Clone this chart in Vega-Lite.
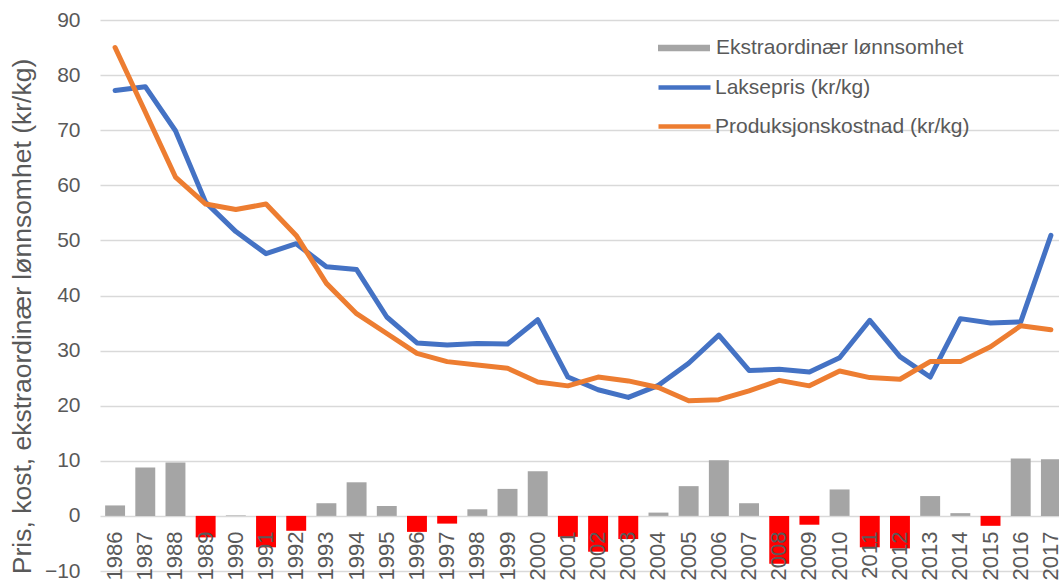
{
  "$schema": "https://vega.github.io/schema/vega-lite/v6.json",
  "width": 966,
  "height": 551,
  "autosize": {"type": "none"},
  "padding": {"left": 100, "top": 20, "right": 0, "bottom": 10},
  "background": "white",
  "config": {"view": {"stroke": null}, "font": "Liberation Sans"},
  "data": {
    "values": [
      {"year": "1986", "laks": 77.2, "kost": 85.0, "ekstra": 1.9},
      {"year": "1987", "laks": 77.9, "kost": 73.3, "ekstra": 8.8},
      {"year": "1988", "laks": 69.9, "kost": 61.5, "ekstra": 9.7},
      {"year": "1989", "laks": 56.9, "kost": 56.6, "ekstra": -3.9},
      {"year": "1990", "laks": 51.6, "kost": 55.6, "ekstra": 0.1},
      {"year": "1991", "laks": 47.6, "kost": 56.6, "ekstra": -5.7},
      {"year": "1992", "laks": 49.4, "kost": 50.9, "ekstra": -2.7},
      {"year": "1993", "laks": 45.2, "kost": 42.2, "ekstra": 2.3},
      {"year": "1994", "laks": 44.7, "kost": 36.7, "ekstra": 6.1},
      {"year": "1995", "laks": 36.1, "kost": 33.1, "ekstra": 1.8},
      {"year": "1996", "laks": 31.4, "kost": 29.5, "ekstra": -2.9},
      {"year": "1997", "laks": 31.0, "kost": 28.0, "ekstra": -1.4},
      {"year": "1998", "laks": 31.3, "kost": 27.4, "ekstra": 1.2},
      {"year": "1999", "laks": 31.2, "kost": 26.8, "ekstra": 4.9},
      {"year": "2000", "laks": 35.6, "kost": 24.3, "ekstra": 8.1},
      {"year": "2001", "laks": 25.2, "kost": 23.6, "ekstra": -3.8},
      {"year": "2002", "laks": 22.9, "kost": 25.2, "ekstra": -6.5},
      {"year": "2003", "laks": 21.5, "kost": 24.5, "ekstra": -4.2},
      {"year": "2004", "laks": 23.7, "kost": 23.3, "ekstra": 0.6},
      {"year": "2005", "laks": 27.7, "kost": 20.9, "ekstra": 5.4},
      {"year": "2006", "laks": 32.8, "kost": 21.1, "ekstra": 10.1},
      {"year": "2007", "laks": 26.4, "kost": 22.7, "ekstra": 2.3},
      {"year": "2008", "laks": 26.6, "kost": 24.6, "ekstra": -8.7},
      {"year": "2009", "laks": 26.1, "kost": 23.6, "ekstra": -1.6},
      {"year": "2010", "laks": 28.7, "kost": 26.3, "ekstra": 4.8},
      {"year": "2011", "laks": 35.5, "kost": 25.1, "ekstra": -5.7},
      {"year": "2012", "laks": 28.9, "kost": 24.8, "ekstra": -5.9},
      {"year": "2013", "laks": 25.2, "kost": 28.0, "ekstra": 3.6},
      {"year": "2014", "laks": 35.8, "kost": 28.0, "ekstra": 0.5},
      {"year": "2015", "laks": 35.0, "kost": 30.7, "ekstra": -1.8},
      {"year": "2016", "laks": 35.2, "kost": 34.5, "ekstra": 10.4},
      {"year": "2017", "laks": 50.9, "kost": 33.8, "ekstra": 10.3}
    ]
  },
  "encoding": {
    "x": {
      "field": "year",
      "type": "ordinal",
      "scale": {"paddingInner": 0.34, "paddingOuter": 0.17},
      "axis": {
        "orient": "bottom",
        "offset": -55,
        "labelAngle": -90,
        "labelAlign": "right",
        "labelBaseline": "middle",
        "labelFontSize": 22,
        "labelColor": "#595959",
        "labelPadding": 15,
        "labelOverlap": false,
        "ticks": false,
        "domain": false,
        "title": null,
        "zindex": 1
      }
    }
  },
  "layer": [
    {
      "mark": {"type": "bar"},
      "encoding": {
        "y": {
          "field": "ekstra",
          "type": "quantitative",
          "scale": {"domain": [-10, 90], "nice": false, "zero": false},
          "axis": {
            "values": [-10, 0, 10, 20, 30, 40, 50, 60, 70, 80, 90],
            "title": "Pris, kost, ekstraordinær lønnsomhet (kr/kg)",
            "titleFontSize": 26.5,
            "titleFontWeight": "normal",
            "titleColor": "#595959",
            "titlePadding": 8,
            "titleY": 296,
            "labelFontSize": 21,
            "labelColor": "#595959",
            "labelPadding": 20,
            "ticks": false,
            "domain": false,
            "gridColor": "#d9d9d9",
            "gridWidth": 1.5,
            "zindex": 0
          }
        },
        "fill": {
          "condition": {"test": "datum.ekstra < 0", "value": "#ff0000"},
          "datum": "Ekstraordinær lønnsomhet",
          "type": "nominal",
          "scale": {"range": ["#a5a5a5"]},
          "legend": {
            "orient": "none",
            "legendX": 558,
            "legendY": 2,
            "title": null,
            "padding": 0,
            "symbolType": "M-1,-0.125H1V0.125H-1Z",
            "symbolSize": 2704,
            "symbolStrokeWidth": 0,
            "labelFontSize": 21,
            "labelColor": "#595959",
            "labelOffset": 6,
            "labelLimit": 400
          }
        }
      }
    },
    {
      "transform": [{"fold": ["laks", "kost"], "as": ["serie", "verdi"]}],
      "mark": {"type": "line", "strokeWidth": 5, "strokeCap": "round", "strokeJoin": "round"},
      "encoding": {
        "y": {
          "field": "verdi",
          "type": "quantitative",
          "axis": {"title": "Pris, kost, ekstraordinær lønnsomhet (kr/kg)"}
        },
        "stroke": {
          "field": "serie",
          "type": "nominal",
          "scale": {"domain": ["laks", "kost"], "range": ["#4472c4", "#ed7d31"]},
          "legend": {
            "orient": "none",
            "legendX": 556,
            "legendY": 39,
            "title": null,
            "padding": 0,
            "rowPadding": 0,
            "symbolType": "stroke",
            "symbolSize": 2704,
            "symbolStrokeWidth": 4.5,
            "labelFontSize": 21,
            "labelColor": "#595959",
            "labelOffset": 2,
            "labelLimit": 400,
            "labelExpr": "datum.label == 'laks' ? 'Laksepris (kr/kg)' : 'Produksjonskostnad (kr/kg)'"
          }
        }
      }
    }
  ]
}
